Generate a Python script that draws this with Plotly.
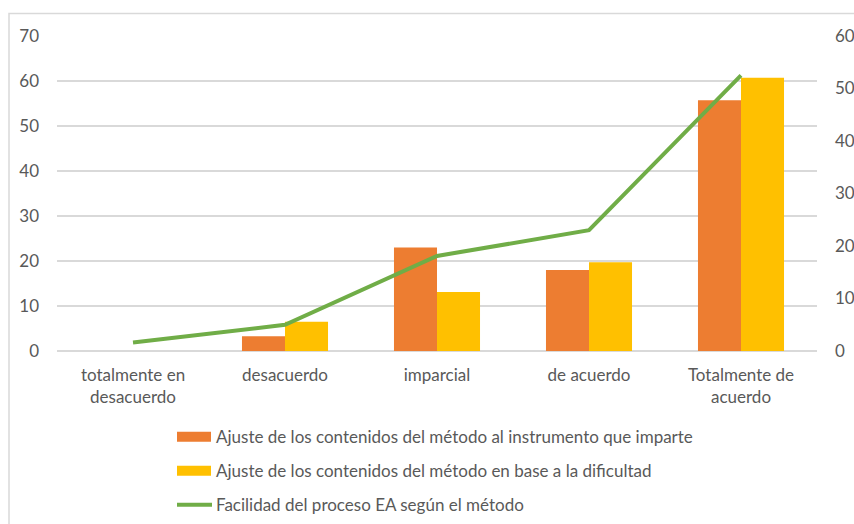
import plotly.graph_objects as go

categories = ["totalmente en<br>desacuerdo", "desacuerdo", "imparcial", "de acuerdo", "Totalmente de<br>acuerdo"]
ajuste_instrumento = [None, 3.3, 23.0, 18.0, 55.7]
ajuste_dificultad = [None, 6.5, 13.1, 19.7, 60.7]
facilidad_proceso = [1.6, 5.0, 18.1, 23.0, 52.5]

series_names = [
    "Ajuste de los contenidos del método al instrumento que imparte",
    "Ajuste de los contenidos del método en base a la dificultad",
    "Facilidad del proceso EA según el método",
]

ORANGE = "#ED7D31"
YELLOW = "#FFC000"
GREEN = "#70AD47"
TEXT = "#595959"
GRID = "#D9D9D9"
FONT = "Lato, Carlito, Calibri, sans-serif"
FSIZE = 17

fig = go.Figure()
fig.add_trace(go.Bar(x=categories, y=ajuste_instrumento, name=series_names[0],
                     marker=dict(color=ORANGE, line=dict(width=0))))
fig.add_trace(go.Bar(x=categories, y=ajuste_dificultad, name=series_names[1],
                     marker=dict(color=YELLOW, line=dict(width=0))))
fig.add_trace(go.Scatter(x=categories, y=facilidad_proceso, name=series_names[2],
                         mode="lines", line=dict(color=GREEN, width=4), yaxis="y2"))

# plot area in pixels: x 57..817, y 35.5..351
L, R, T, B = 57, 817, 35.5, 351
W, H = 854, 524


def px_x(p):
    return (p - L) / (R - L)


def px_y(p):
    return (B - p) / (B - T)


shapes = [
    # outer chart frame
    dict(type="rect", xref="paper", yref="paper",
         x0=px_x(9), x1=px_x(900), y0=px_y(600), y1=px_y(13),
         line=dict(color=GRID, width=1.5), fillcolor="rgba(0,0,0,0)", layer="below"),
]
annotations = []

# custom legend entries
legend_rows = [(437, "bar", ORANGE), (471, "bar", YELLOW), (505, "line", GREEN)]
for (yc, kind, col), name in zip(legend_rows, series_names):
    if kind == "bar":
        shapes.append(dict(type="rect", xref="paper", yref="paper",
                           x0=px_x(177), x1=px_x(211), y0=px_y(yc + 5), y1=px_y(yc - 5),
                           fillcolor=col, line=dict(width=0)))
    else:
        shapes.append(dict(type="line", xref="paper", yref="paper",
                           x0=px_x(177), x1=px_x(212), y0=px_y(yc), y1=px_y(yc),
                           line=dict(color=col, width=4)))
    annotations.append(dict(xref="paper", yref="paper", x=px_x(214), y=px_y(yc),
                            text=name, showarrow=False, xanchor="left", yanchor="middle",
                            font=dict(family=FONT, size=FSIZE, color=TEXT)))

fig.update_layout(
    width=W, height=H,
    margin=dict(l=L, r=W - R, t=T, b=H - B, autoexpand=False),
    paper_bgcolor="white", plot_bgcolor="white",
    barmode="group", bargap=0.434, bargroupgap=0,
    showlegend=False,
    font=dict(family=FONT, size=FSIZE, color=TEXT),
    xaxis=dict(showgrid=False, showline=False, ticks="", ticklabelstandoff=12,
               automargin=False, tickfont=dict(size=FSIZE, color=TEXT)),
    yaxis=dict(range=[0, 70], dtick=10, showgrid=True, gridcolor=GRID, gridwidth=1.5,
               zeroline=True, zerolinecolor=GRID, zerolinewidth=1.5, automargin=False,
               showline=False, ticks="", ticklabelstandoff=17, tickfont=dict(size=FSIZE, color=TEXT)),
    yaxis2=dict(range=[0, 60], dtick=10, overlaying="y", side="right", showgrid=False,
                zeroline=False, showline=False, ticks="", ticklabelstandoff=17,
                automargin=False, tickfont=dict(size=FSIZE, color=TEXT)),
    shapes=shapes,
    annotations=annotations,
)

fig.write_html("out.html")
